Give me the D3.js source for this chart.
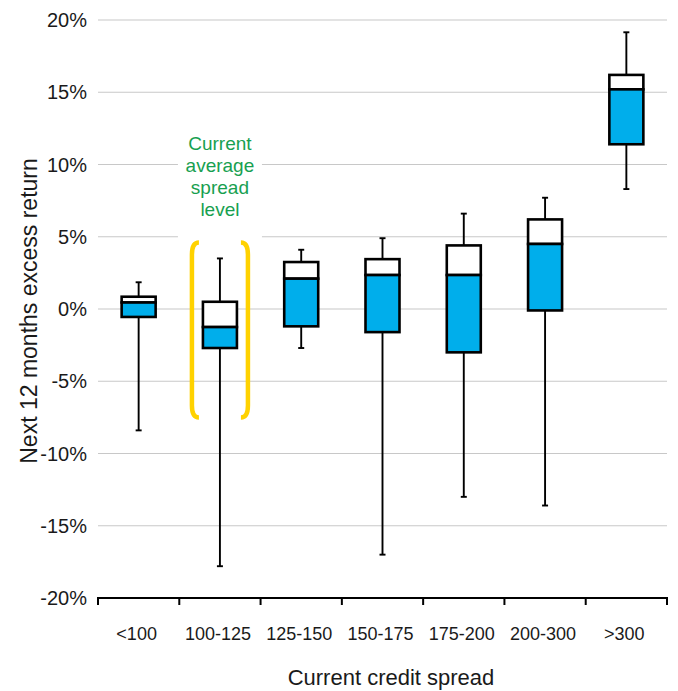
<!DOCTYPE html>
<html>
<head>
<meta charset="utf-8">
<script src="https://cdn.jsdelivr.net/npm/d3@7"></script>
<style>
  html, body { margin: 0; padding: 0; background: #fff; }
  svg { display: block; font-family: "Liberation Sans", Arial, sans-serif; }
</style>
</head>
<body>
<svg id="chart" width="678" height="691"></svg>
<script>
const categories = ["<100", "100-125", "125-150", "150-175", "175-200", "200-300", ">300"];
const whiskerLow  = [-8.4, -17.8, -2.7, -17.0, -13.0, -13.6, 8.3];
const boxLow      = [-0.55, -2.7, -1.2, -1.6, -3.0, -0.1, 11.4];
const boxMid      = [0.45, -1.25, 2.1, 2.35, 2.35, 4.5, 15.2];
const boxHigh     = [0.85, 0.5, 3.25, 3.45, 4.4, 6.2, 16.2];
const whiskerHigh = [1.85, 3.5, 4.1, 4.9, 6.6, 7.7, 19.15];
const yTicks = [-20, -15, -10, -5, 0, 5, 10, 15, 20];
const highlightCategory = "100-125";
const bracketRange = [4.6, -7.5];
const annotationLines = ["Current", "average", "spread", "level"];

(function () {
const svg = d3.select("#chart");
const pLeft = 98, pRight = 667, pTop = 20, pBottom = 598;

const x = d3.scaleBand().domain(categories).range([pLeft, pRight]).padding(0);
const y = d3.scaleLinear().domain([-20, 20]).range([pBottom, pTop]);

// gridlines
svg.append("g").selectAll("line").data(yTicks.filter(t => t > -20)).join("line")
  .attr("x1", pLeft).attr("x2", pRight)
  .attr("y1", d => y(d)).attr("y2", d => y(d))
  .attr("stroke", "#c8c8c8").attr("stroke-width", 1.2);

// y tick labels
svg.append("g").selectAll("text").data(yTicks).join("text")
  .attr("x", 87).attr("y", d => y(d))
  .attr("dy", "0.36em")
  .attr("text-anchor", "end")
  .attr("font-size", 20)
  .attr("fill", "#1a1a1a")
  .text(d => d + "%");

// x axis
const xAxis = svg.append("g").attr("transform", `translate(0,${pBottom})`);
xAxis.append("line").attr("x1", pLeft - 1).attr("x2", pRight + 1).attr("y1", 0).attr("y2", 0)
  .attr("stroke", "#000").attr("stroke-width", 2);
const tickPos = categories.map(c => x(c)).concat([pRight]);
xAxis.selectAll("line.tk").data(tickPos).join("line").attr("class", "tk")
  .attr("x1", d => d).attr("x2", d => d).attr("y1", 0).attr("y2", 7)
  .attr("stroke", "#000").attr("stroke-width", 2);
xAxis.selectAll("text").data(categories).join("text")
  .attr("x", d => x(d) + x.bandwidth() / 2 - 2).attr("y", 42)
  .attr("text-anchor", "middle").attr("font-size", 18).attr("fill", "#1a1a1a")
  .text(d => d);

// axis titles
svg.append("text").attr("x", 391).attr("y", 685).attr("text-anchor", "middle")
  .attr("font-size", 22).attr("fill", "#1a1a1a").text("Current credit spread");
svg.append("text").attr("transform", `translate(37,311) rotate(-90)`)
  .attr("text-anchor", "middle").attr("font-size", 23).attr("fill", "#1a1a1a")
  .text("Next 12 months excess return");

// annotation
const hc = x(highlightCategory) + x.bandwidth() / 2;
svg.append("rect").attr("x", hc - 42).attr("y", y(12.6)).attr("width", 84).attr("height", y(3.9) - y(12.6))
  .attr("fill", "#fff");
svg.append("g").selectAll("text").data(annotationLines).join("text")
  .attr("x", hc).attr("y", (d, i) => 149.5 + i * 22)
  .attr("text-anchor", "middle").attr("font-size", 19).attr("fill", "#17a050")
  .text(d => d);

// brackets
const bt = y(bracketRange[0]), bb = y(bracketRange[1]);
const bx = 28, curl = 7, r = 12;
function bracket(side) {
  const xv = hc + side * bx;
  const xe = xv - side * curl;
  return `M${xe},${bt} Q${xv},${bt} ${xv},${bt + r} L${xv},${bb - r} Q${xv},${bb} ${xe},${bb}`;
}
svg.append("g").selectAll("path").data([-1, 1]).join("path")
  .attr("d", d => bracket(d))
  .attr("fill", "none").attr("stroke", "#ffd200").attr("stroke-width", 4.5).attr("stroke-linecap", "butt");

// boxes
const data = categories.map((c, i) => ({c, wl: whiskerLow[i], bl: boxLow[i], m: boxMid[i], bh: boxHigh[i], wh: whiskerHigh[i]}));
const bw = 34, cap = 6;
const g = svg.append("g").selectAll("g").data(data).join("g")
  .attr("transform", d => `translate(${x(d.c) + x.bandwidth() / 2},0)`);
g.append("line").attr("x1", 0).attr("x2", 0).attr("y1", d => y(d.wh)).attr("y2", d => y(d.wl))
  .attr("stroke", "#000").attr("stroke-width", 1.9);
g.append("line").attr("x1", -cap / 2).attr("x2", cap / 2).attr("y1", d => y(d.wh)).attr("y2", d => y(d.wh))
  .attr("stroke", "#000").attr("stroke-width", 1.9);
g.append("line").attr("x1", -cap / 2).attr("x2", cap / 2).attr("y1", d => y(d.wl)).attr("y2", d => y(d.wl))
  .attr("stroke", "#000").attr("stroke-width", 1.9);
g.append("rect").attr("x", -bw / 2).attr("width", bw)
  .attr("y", d => y(d.bh)).attr("height", d => y(d.m) - y(d.bh))
  .attr("fill", "#fff").attr("stroke", "#000").attr("stroke-width", 2.6);
g.append("rect").attr("x", -bw / 2).attr("width", bw)
  .attr("y", d => y(d.m)).attr("height", d => y(d.bl) - y(d.m))
  .attr("fill", "#00aeeb").attr("stroke", "#000").attr("stroke-width", 2.6);
})();
</script>
</body>
</html>
